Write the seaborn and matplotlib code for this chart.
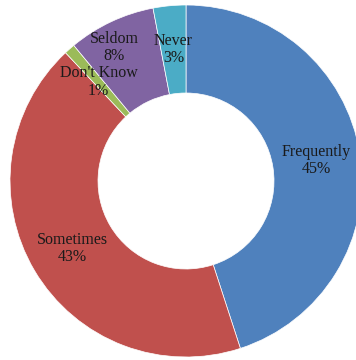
import numpy as np
import matplotlib
matplotlib.use("Agg")
import matplotlib.pyplot as plt
import seaborn as sns

# Survey responses, clockwise from 12 o'clock
categories = ["Frequently", "Sometimes", "Don't Know", "Seldom", "Never"]
shares = [45, 43, 1, 8, 3]
colors = ["#4F81BD", "#C0504D", "#9BBB59", "#8064A2", "#4BACC6"]

sns.set_theme(style="white")
plt.rcParams["font.family"] = ["Liberation Serif", "DejaVu Serif"]
palette = sns.color_palette(colors)

fig = plt.figure(figsize=(3.56, 3.60), dpi=100)
ax = fig.add_axes([10 / 356, 3 / 360, 352 / 356, 352 / 360])

wedges, _ = ax.pie(
    shares,
    colors=palette,
    startangle=90,
    counterclock=False,
    radius=1.0,
    wedgeprops=dict(width=0.5, edgecolor="white", linewidth=0.5),
)

# label radius (fraction of outer radius) for each slice
label_r = [0.75, 0.75, 0.75, 0.86, 0.75]
label_dang = [0, 0, 0, -3, 0]
cum = np.cumsum([0] + shares[:-1])
total = sum(shares)
for cat, val, c0, r, da in zip(categories, shares, cum, label_r, label_dang):
    mid = (c0 + val / 2) / total * 360 + da
    theta = np.deg2rad(90 - mid)
    x, y = r * np.cos(theta), r * np.sin(theta)
    ax.text(x, y, f"{cat}\n{val}%", ha="center", va="center",
            fontsize=11.5, color="#1a1a1a", linespacing=1.1)

ax.set_xlim(-1, 1)
ax.set_ylim(-1, 1)
ax.set_aspect("auto")
ax.axis("off")

fig.savefig("out.png", dpi=100)
